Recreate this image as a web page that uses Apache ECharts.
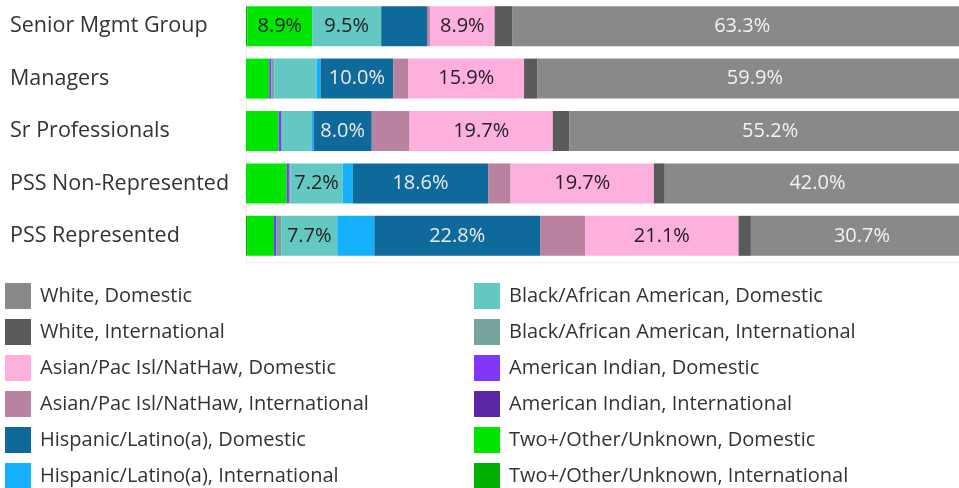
<!DOCTYPE html>
<html><head><meta charset="utf-8">
<script src="https://cdn.jsdelivr.net/npm/echarts@6/dist/echarts.min.js"></script>
<style>html,body{margin:0;padding:0;background:#fff}#c{width:959px;height:488px}</style>
</head><body><div id="c"></div>
<script>
var categories = ["Senior Mgmt Group","Managers","Sr Professionals","PSS Non-Represented","PSS Represented"];
// stack order from left to right
var twoIntl    = [0.2, 0,   0,   0,   0.15];
var twoDom     = [8.9, 3.2, 4.5, 5.6, 3.7];
var amIndIntl  = [0,   0,   0,   0,   0];
var amIndDom   = [0,   0.3, 0.4, 0.3, 0.3];
var blackIntl  = [0,   0.4, 0,   0.2, 0.7];
var blackDom   = [9.5, 5.8, 4.1, 7.2, 7.7];
var hispIntl   = [0,   0.55,0.3, 1.4, 5.1];
var hispDom    = [6.3, 10.0,8.0, 18.6,22.8];
var asianIntl  = [0.4, 2.1, 5.2, 3.1, 6.2];
var asianDom   = [8.9, 15.9,19.7,19.7,21.1];
var whiteIntl  = [2.4, 1.8, 2.3, 1.5, 1.7];
var whiteDom   = [63.3,59.9,55.2,42.0,30.7];

var seriesDefs = [
  ["Two+/Other/Unknown, International", twoIntl, "#00b000", "#222"],
  ["Two+/Other/Unknown, Domestic", twoDom, "#00e600", "#222"],
  ["American Indian, International", amIndIntl, "#5c27a6", "#eee"],
  ["American Indian, Domestic", amIndDom, "#8136fc", "#eee"],
  ["Black/African American, International", blackIntl, "#76a49e", "#222"],
  ["Black/African American, Domestic", blackDom, "#63c8c1", "#222"],
  ["Hispanic/Latino(a), International", hispIntl, "#15b0fc", "#222"],
  ["Hispanic/Latino(a), Domestic", hispDom, "#0d6a9b", "#ebebeb"],
  ["Asian/Pac Isl/NatHaw, International", asianIntl, "#ba82a1", "#222"],
  ["Asian/Pac Isl/NatHaw, Domestic", asianDom, "#fdb0dd", "#222"],
  ["White, International", whiteIntl, "#5a5a5a", "#eee"],
  ["White, Domestic", whiteDom, "#898989", "#f2f2f2"]
];
var legendLeft = ["White, Domestic","White, International","Asian/Pac Isl/NatHaw, Domestic","Asian/Pac Isl/NatHaw, International","Hispanic/Latino(a), Domestic","Hispanic/Latino(a), International"];
var legendRight = ["Black/African American, Domestic","Black/African American, International","American Indian, Domestic","American Indian, International","Two+/Other/Unknown, Domestic","Two+/Other/Unknown, International"];

var FONT = "Open Sans";
var series = seriesDefs.map(function(d){
  return {
    name: d[0], type: 'bar', stack: 'a', data: d[1], barWidth: 40,
    itemStyle: {color: d[2]},
    label: {
      show: true, position: 'inside', color: d[3], fontSize: 20, fontFamily: FONT,
      formatter: function(p){ return p.value >= 7 ? p.value.toFixed(1) + '%' : ''; }
    },
    emphasis: {disabled: true}
  };
});
var legendCommon = {orient:'vertical', itemWidth:26, itemHeight:26, itemGap:10, icon:'rect', padding:0,
  height:220, textStyle:{fontSize:20, fontFamily:FONT, color:'#333', padding:[0,0,0,4]}, selectedMode:false};
var chart = echarts.init(document.getElementById('c'), null, {renderer:'canvas'});
chart.setOption({
  animation:false,
  grid:{left:246, top:0, height:262, width:727, containLabel:false, outerBoundsMode:'none'},
  xAxis:{type:'value', min:0, max:100, axisLabel:{show:false}, splitLine:{show:false},
    axisLine:{show:true, lineStyle:{color:'#eeeeee', width:1}}, axisTick:{show:false}},
  yAxis:{type:'category', data:categories, inverse:true,
    axisLine:{show:true, lineStyle:{color:'#eeeeee'}}, axisTick:{show:false},
    axisLabel:{align:'left', margin:236, fontSize:21.5, fontFamily:FONT, color:'#333', verticalAlign:'middle', padding:[5,0,0,0]}},
  legend:[
    Object.assign({left:5, top:283, data:legendLeft}, legendCommon),
    Object.assign({left:474, top:283, data:legendRight}, legendCommon)
  ],
  series: series
});
</script></body></html>
